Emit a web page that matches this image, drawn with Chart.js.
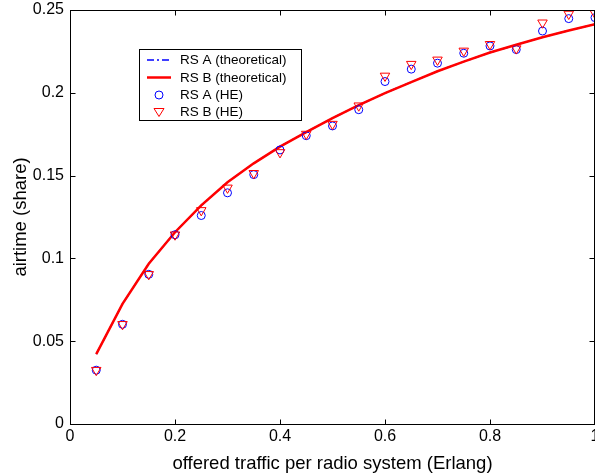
<!DOCTYPE html>
<html>
<head>
<meta charset="utf-8">
<script src="https://cdn.jsdelivr.net/npm/chart.js@4.4.0/dist/chart.umd.min.js"></script>
<style>
  html, body { margin: 0; padding: 0; background: #fff; overflow: hidden; }
  #wrap { width: 595px; height: 475px; overflow: hidden; }
</style>
</head>
<body>
<div id="wrap"><canvas id="myChart" width="612" height="475"></canvas></div>
<script>
// offered traffic per radio system (Erlang)
const traffic = [0.05, 0.1, 0.15, 0.2, 0.25, 0.3, 0.35, 0.4, 0.45, 0.5,
                 0.55, 0.6, 0.65, 0.7, 0.75, 0.8, 0.85, 0.9, 0.95, 1.0];

// theoretical airtime share
const theoA = [0.0422, 0.0725, 0.0968, 0.1158, 0.1320, 0.1460, 0.1574, 0.1675, 0.1763, 0.1847,
               0.1925, 0.1998, 0.2065, 0.2130, 0.2188, 0.2243, 0.2290, 0.2335, 0.2376, 0.2414];
const theoB = [0.0422, 0.0725, 0.0968, 0.1158, 0.1320, 0.1460, 0.1574, 0.1675, 0.1763, 0.1847,
               0.1925, 0.1998, 0.2065, 0.2130, 0.2188, 0.2243, 0.2290, 0.2335, 0.2376, 0.2414];

// measured (HE) airtime share
const heA = [0.0325, 0.0602, 0.0904, 0.1143, 0.1259, 0.1396, 0.1506, 0.1655, 0.1741, 0.1800,
             0.1898, 0.2068, 0.2143, 0.2179, 0.2239, 0.2283, 0.2261, 0.2373, 0.2448, 0.2454];
const heB = [0.0325, 0.0602, 0.0904, 0.1143, 0.1290, 0.1426, 0.1514, 0.1640, 0.1751, 0.1811,
             0.1922, 0.2102, 0.2173, 0.2199, 0.2253, 0.2293, 0.2267, 0.2423, 0.2476, 0.2480];

const xTickLabels = ['0', '0.2', '0.4', '0.6', '0.8', '1'];
const yTickLabels = ['0', '0.05', '0.1', '0.15', '0.2', '0.25'];
const legendLabels = ['RS A (theoretical)', 'RS B (theoretical)', 'RS A (HE)', 'RS B (HE)'];

const FONT = '"Liberation Sans", Arial, Helvetica, sans-serif';
const BLUE = '#0000ff';
const RED = '#ff0000';

function pts(ys) {
    return traffic.map((x, i) => ({ x: x, y: ys[i] }));
}

// box around the plot with small inward ticks on all four sides
const frame = {
    id: 'frame',
    afterDatasetsDraw(chart) {
        const { ctx, chartArea: a, scales } = chart;
        const L = Math.round(a.left) + 0.5, R = Math.round(a.right) - 0.5;
        const T = Math.round(a.top) + 0.5, B = Math.round(a.bottom) + 0.5;
        ctx.save();
        ctx.strokeStyle = '#000';
        ctx.lineWidth = 1;
        ctx.strokeRect(L, T, R - L, B - T);
        ctx.beginPath();
        scales.x.ticks.forEach(t => {
            const px = Math.round(scales.x.getPixelForValue(t.value)) + 0.5;
            ctx.moveTo(px, B); ctx.lineTo(px, B - 5);
            ctx.moveTo(px, T); ctx.lineTo(px, T + 5);
        });
        scales.y.ticks.forEach(t => {
            const py = Math.round(scales.y.getPixelForValue(t.value)) + 0.5;
            ctx.moveTo(L, py); ctx.lineTo(L + 5, py);
            ctx.moveTo(R, py); ctx.lineTo(R - 5, py);
        });
        ctx.stroke();
        ctx.restore();
    }
};

// legend box inside the plot
const legendBox = {
    id: 'legendBox',
    afterDraw(chart) {
        const ctx = chart.ctx;
        const x0 = 139.5, y0 = 49.5, w = 162, h = 71;
        ctx.save();
        ctx.fillStyle = '#fff';
        ctx.fillRect(x0, y0, w, h);
        ctx.strokeStyle = '#000';
        ctx.lineWidth = 1;
        ctx.strokeRect(x0, y0, w, h);
        const rows = [60, 77.5, 95, 112];
        // blue dash-dot
        ctx.strokeStyle = BLUE;
        ctx.lineWidth = 1.5;
        ctx.setLineDash([7, 3, 2, 3]);
        ctx.beginPath(); ctx.moveTo(147, rows[0]); ctx.lineTo(171, rows[0]); ctx.stroke();
        ctx.setLineDash([]);
        // red solid
        ctx.strokeStyle = RED;
        ctx.lineWidth = 2.5;
        ctx.beginPath(); ctx.moveTo(147, rows[1]); ctx.lineTo(171, rows[1]); ctx.stroke();
        // circle
        ctx.lineWidth = 1;
        ctx.strokeStyle = BLUE;
        ctx.beginPath(); ctx.arc(159, rows[2], 4, 0, Math.PI * 2); ctx.stroke();
        // down triangle
        ctx.strokeStyle = RED;
        ctx.beginPath();
        ctx.moveTo(154, rows[3] - 3.5); ctx.lineTo(164, rows[3] - 3.5); ctx.lineTo(159, rows[3] + 4.5);
        ctx.closePath(); ctx.stroke();
        ctx.fillStyle = '#000';
        ctx.font = '13.5px ' + FONT;
        ctx.textBaseline = 'middle';
        legendLabels.forEach((t, i) => ctx.fillText(t, 180, rows[i] + 0.5));
        ctx.restore();
    }
};

const ctx = document.getElementById('myChart').getContext('2d');
const myChart = new Chart(ctx, {
    type: 'line',
    data: {
        datasets: [{
            label: legendLabels[2],
            data: pts(heA),
            showLine: false,
            pointStyle: 'circle',
            pointRadius: 4,
            pointBorderWidth: 1,
            pointBorderColor: BLUE,
            pointBackgroundColor: 'rgba(0,0,0,0)',
            order: 1
        }, {
            label: legendLabels[3],
            data: pts(heB),
            showLine: false,
            pointStyle: 'triangle',
            pointRotation: 180,
            pointRadius: 5.5,
            pointBorderWidth: 1,
            pointBorderColor: RED,
            pointBackgroundColor: 'rgba(0,0,0,0)',
            order: 0
        }, {
            label: legendLabels[1],
            data: pts(theoB),
            borderColor: RED,
            borderWidth: 2.5,
            pointRadius: 0,
            fill: false,
            order: 2
        }, {
            label: legendLabels[0],
            data: pts(theoA),
            borderColor: BLUE,
            borderWidth: 1.5,
            borderDash: [7, 3, 2, 3],
            pointRadius: 0,
            fill: false,
            order: 3
        }]
    },
    options: {
        responsive: false,
        animation: false,
        events: [],
        layout: { padding: { top: 10, right: 17, left: 0, bottom: 0 } },
        plugins: { legend: { display: false }, tooltip: { enabled: false } },
        scales: {
            x: {
                type: 'linear',
                min: 0,
                max: 1,
                grid: { display: false, drawTicks: false },
                border: { display: false },
                ticks: {
                    stepSize: 0.2,
                    maxRotation: 0,
                    padding: 3,
                    color: '#000',
                    font: { family: FONT, size: 16 },
                    callback: (v, i) => xTickLabels[i]
                },
                title: {
                    display: true,
                    text: 'offered traffic per radio system (Erlang)',
                    color: '#000',
                    font: { family: FONT, size: 18.5 },
                    padding: { top: 0, bottom: 0 }
                },
                afterFit: s => { s.height = 51; }
            },
            y: {
                min: 0,
                max: 0.25,
                grid: { display: false, drawTicks: false },
                border: { display: false },
                ticks: {
                    stepSize: 0.05,
                    padding: 6,
                    color: '#000',
                    font: { family: FONT, size: 16 },
                    callback: (v, i) => yTickLabels[i]
                },
                title: {
                    display: true,
                    text: 'airtime (share)',
                    color: '#000',
                    font: { family: FONT, size: 18.5 },
                    padding: { top: 10, bottom: 0 }
                },
                afterFit: s => { s.width = 70; s.paddingTop = 0; s.paddingBottom = 0; }
            }
        }
    },
    plugins: [frame, legendBox]
});
</script>
</body>
</html>
